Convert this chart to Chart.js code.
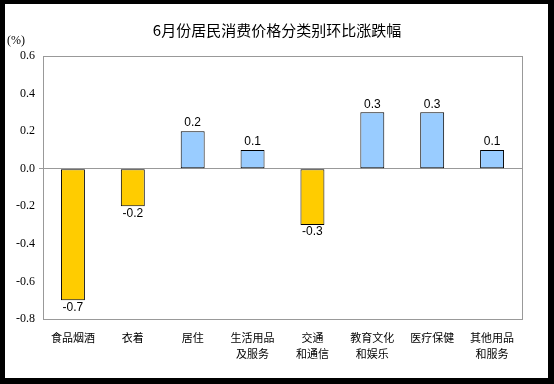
<!DOCTYPE html>
<html>
<head>
<meta charset="utf-8">
<script src="https://cdn.jsdelivr.net/npm/chart.js@4"></script>
<style>
  html, body { margin: 0; padding: 0; background: #000; }
  #box { position: absolute; left: 5px; top: 4px; width: 543px; height: 374px; background: #fff; }
  canvas { display: block; }
</style>
</head>
<body>
<div id="box"><canvas id="cpiChart" width="543" height="374"></canvas></div>
<script>
// 数据
const categories = [
    "食品烟酒",
    "衣着",
    "居住",
    ["生活用品", "及服务"],
    ["交通", "和通信"],
    ["教育文化", "和娱乐"],
    "医疗保健",
    ["其他用品", "和服务"]
];
const changes = [-0.7, -0.2, 0.2, 0.1, -0.3, 0.3, 0.3, 0.1];
const yTicks = [-0.8, -0.6, -0.4, -0.2, 0.0, 0.2, 0.4, 0.6];
const titleText = "6月份居民消费价格分类别环比涨跌幅";
const unitText = "(%)";

const upColor = "#99CCFF";
const downColor = "#FFCC00";

// 标题、单位、外框和数值标签
const decorPlugin = {
    id: "decor",
    afterDraw(chart) {
        const ctx = chart.ctx;
        const area = chart.chartArea;
        ctx.save();
        ctx.strokeStyle = "#999";
        ctx.lineWidth = 1;
        ctx.strokeRect(Math.round(area.left) + 0.5, Math.round(area.top) + 0.5,
            Math.round(area.right - area.left), Math.round(area.bottom - area.top));

        ctx.fillStyle = "#000";
        ctx.textAlign = "center";
        ctx.textBaseline = "middle";
        ctx.font = "15px 'Noto Sans CJK SC'";
        ctx.fillText(titleText, 272, 26);

        ctx.textAlign = "left";
        ctx.font = "12px 'Liberation Serif'";
        ctx.fillText(unitText, 2, 37);

        ctx.font = "12px 'Liberation Sans'";
        ctx.textAlign = "center";
        const meta = chart.getDatasetMeta(0);
        meta.data.forEach((bar, i) => {
            const v = changes[i];
            if (v >= 0) {
                ctx.textBaseline = "bottom";
                ctx.fillText(v.toFixed(1), bar.x, bar.y - 2);
            } else {
                ctx.textBaseline = "top";
                ctx.fillText(v.toFixed(1), bar.x, bar.y + 1);
            }
        });
        ctx.restore();
    }
};

const ctx = document.getElementById("cpiChart").getContext("2d");
new Chart(ctx, {
    type: "bar",
    data: {
        labels: categories,
        datasets: [{
            data: changes,
            backgroundColor: changes.map(v => v >= 0 ? upColor : downColor),
            borderColor: "#000",
            borderWidth: 1,
            borderSkipped: false,
            categoryPercentage: 1,
            barPercentage: 0.4
        }]
    },
    options: {
        responsive: false,
        animation: false,
        layout: {
            padding: { top: 52, right: 26, left: 0, bottom: 0 }
        },
        plugins: {
            legend: { display: false },
            tooltip: { enabled: false }
        },
        scales: {
            x: {
                grid: { display: false },
                border: { display: false },
                ticks: {
                    color: "#000",
                    maxRotation: 0,
                    autoSkip: false,
                    padding: 3,
                    font: { family: "'Noto Sans CJK SC'", size: 11, lineHeight: 1.45 }
                },
                afterFit(scale) { scale.height = 59; }
            },
            y: {
                min: -0.8,
                max: 0.6,
                afterBuildTicks(scale) {
                    scale.ticks = yTicks.map(v => ({ value: v }));
                },
                grid: {
                    drawOnChartArea: true,
                    tickLength: 4,
                    color: ctx => ctx.tick && ctx.tick.value === 0 ? "#999" : "rgba(0,0,0,0)",
                    lineWidth: 1
                },
                border: { display: false },
                ticks: {
                    color: "#000",
                    padding: 4,
                    font: { family: "'Liberation Serif'", size: 12 },
                    callback: v => Number(v).toFixed(1)
                },
                afterFit(scale) { scale.width = 38; }
            }
        }
    },
    plugins: [decorPlugin]
});
</script>
</body>
</html>
